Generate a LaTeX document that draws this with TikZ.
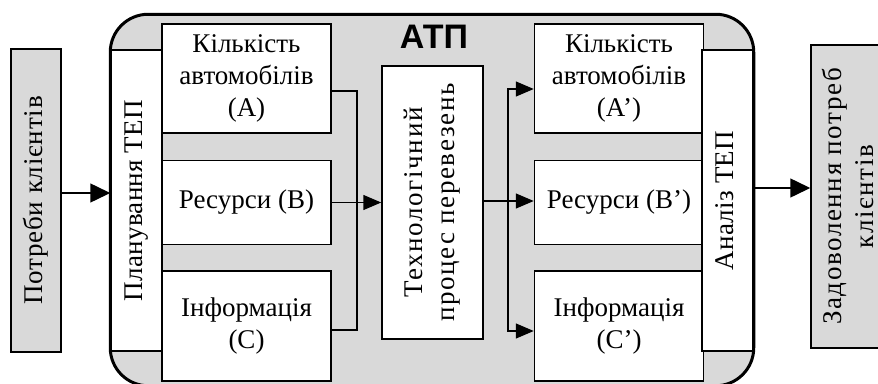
\documentclass[tikz,border=0pt]{standalone}
\usepackage{graphicx}
\usepackage{fontspec}
\setmainfont{Liberation Serif}
\newfontfamily\headfont{Liberation Sans}
\usepackage{tikz}
\usetikzlibrary{arrows.meta}
\usetikzlibrary{positioning}

\newcommand{\vtext}[2][0]{\rotatebox{90}{\addfontfeatures{LetterSpace=#1}\begin{tabular}{@{}c@{}}#2\end{tabular}}}

\begin{document}
\begin{tikzpicture}[x=1pt,y=-1pt,->,>={Triangle[length=18pt,width=15pt]},
  line width=1.5pt,font=\fontsize{27}{32}\selectfont,
  box/.style={draw,fill=white,inner sep=0pt,align=center},
  side box/.style={draw,fill=black!15,inner sep=0pt,minimum height=303pt},
  bar/.style={draw,fill=white,inner sep=0pt,minimum width=51pt,minimum height=301pt},
  res box/.style={box,minimum width=169pt},
  big arrow/.style={>={Triangle[length=20pt,width=19pt]}}]

  \useasboundingbox (0,0) rectangle (878,383);
  \clip (0,0) rectangle (878,383);

  \node[fill=black!15,rounded corners=38pt,minimum width=642pt,minimum height=370pt,inner sep=0pt] (atp) at (432,200) {};
  \node[anchor=base] (title) at (434,48) {\headfont\bfseries\fontsize{34}{40}\selectfont АТП};

  \node[side box,minimum width=50pt] (needs) at (36,200.5) {\vtext[3]{Потреби клієнтів}};
  \node[bar] (plan) at (136.5,200.5) {\vtext[1]{Планування ТЕП}};

  \node[res box,minimum height=109pt] (kA) at (246.5,78.5) {Кількість\\автомобілів\\(А)};
  \node[res box,minimum height=84pt] (kB) [below=26pt of kA] {Ресурси (В)};
  \node[res box,minimum height=110pt] (kC) [below=25pt of kB] {Інформація\\(С)};

  \node[box,minimum width=101pt,minimum height=273pt] (tech) at (432.5,202.5) {\vtext[6]{Технологічний\\процес перевезень}};

  \node[res box,minimum height=109pt] (kA2) [right=202pt of kA] {Кількість\\автомобілів\\(А’)};
  \node[res box,minimum height=84pt] (kB2) [below=26pt of kA2] {Ресурси (В’)};
  \node[res box,minimum height=110pt] (kC2) [below=25pt of kB2] {Інформація\\(С’)};

  \node[bar] (an) at (727.5,200.5) {\vtext[1]{Аналіз ТЕП}};
  \node[side box,minimum width=81pt] (sat) at (851.5,196.5) {\vtext[6]{Задоволення потреб\\клієнтів}};

  \coordinate (jl) at (357,201);
  \coordinate (jr) at (508,201);

  \draw[-] ([yshift=-12.5pt]kA.east) -| (jl) |- ([yshift=-4pt]kC.east);
  \draw (kB.east) -- (kB.east -| tech.west);
  \draw[-] (tech.east |- jr) -- (jr);
  \draw (jr) |- ([yshift=-10.5pt]kA2.west);
  \draw (jr) -- (jr -| kB2.west);
  \draw (jr) |- ([yshift=-5pt]kC2.west);

  \draw[big arrow] ([yshift=7.5pt]needs.east) -- ([yshift=7.5pt]needs.east -| plan.west);
  \draw[big arrow] ([yshift=12.5pt]an.east) -- ([yshift=12.5pt]an.east -| sat.west);

  \draw[-,line width=3pt,rounded corners=38pt] (atp.north west) rectangle (atp.south east);

\end{tikzpicture}
\end{document}
